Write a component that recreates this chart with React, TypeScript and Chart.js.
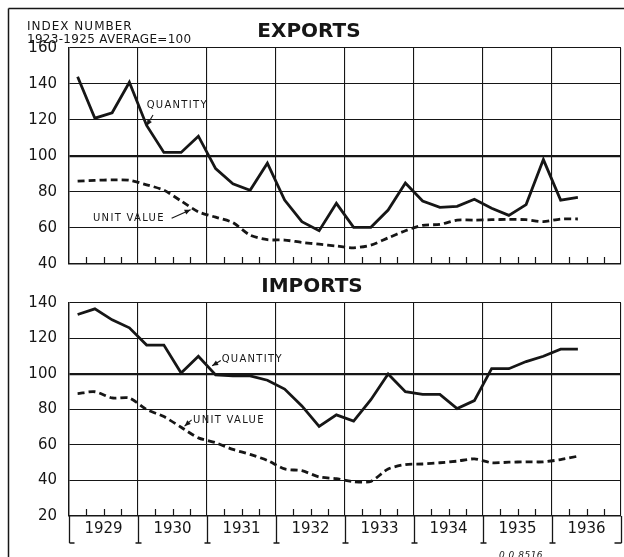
import React, { useEffect, useRef } from 'react';
import { Chart, registerables } from 'chart.js';

Chart.register(...registerables);

// ---- data (quarterly, 1929 Q1 – 1936 Q2) ----
const YEARS = ['1929', '1930', '1931', '1932', '1933', '1934', '1935', '1936'];
const QUARTERS_PER_YEAR = 4;

const exportsQuantity = [
  144, 121, 124, 141, 117, 102, 102, 111, 93, 84.5, 81, 96, 75.5, 63.5, 58.5,
  73.7, 60.4, 60.4, 70, 85, 75, 71.5, 72, 76, 71, 67, 73, 98, 75.5, 77,
];
const exportsUnitValue = [
  86, 86.5, 86.7, 86.5, 84, 81, 75, 69, 66, 63, 56, 53.5, 53.3, 52, 51, 50, 49,
  50.5, 54.5, 58.5, 61.5, 62, 64.4, 64.4, 64.6, 64.8, 64.6, 63.5, 65, 65,
];
const importsQuantity = [
  133.5, 136.7, 130.5, 126, 116.3, 116.3, 100.6, 110, 99.5, 99, 99, 96.5, 91.5,
  82, 70.5, 77, 73.5, 85.5, 100, 90, 88.5, 88.5, 80.5, 85, 103, 103, 107, 110,
  114, 114,
];
const importsUnitValue = [
  89, 90, 86.5, 86.5, 80, 76, 70, 64, 61.3, 57.5, 54.7, 51.3, 46.5, 45.5, 42, 41,
  39.3, 39.5, 46.5, 49, 49.3, 50, 50.9, 52.2, 50, 50.3, 50.5, 50.5, 51.8, 53.7,
];
const exportsTicks = [40, 60, 80, 100, 120, 140, 160];
const importsTicks = [20, 40, 60, 80, 100, 120, 140];

const INK = '#161616';
const FONT = '"DejaVu Sans"';
Chart.defaults.font.family = FONT;
Chart.defaults.color = INK;

type Note = { text: string; tx: number; ty: number; from: [number, number]; to: [number, number] };

const exportsNotes: Note[] = [
  { text: 'QUANTITY', tx: 4.5, ty: 128.3, from: [4.87, 122.8], to: [4.5, 116.8] },
  { text: 'UNIT VALUE', tx: 1.39, ty: 65.6, from: [5.95, 65.4], to: [7.05, 70.2] },
];
const importsNotes: Note[] = [
  { text: 'QUANTITY', tx: 8.85, ty: 108.3, from: [8.8, 107.6], to: [8.3, 104.6] },
  { text: 'UNIT VALUE', tx: 7.19, ty: 73.6, from: [7.11, 74.2], to: [6.7, 70.6] },
];

function arrow(ctx: CanvasRenderingContext2D, x1: number, y1: number, x2: number, y2: number) {
  ctx.beginPath();
  ctx.moveTo(x1, y1);
  ctx.lineTo(x2, y2);
  ctx.stroke();
  const a = Math.atan2(y2 - y1, x2 - x1);
  const L = 6;
  const W = 2.6;
  ctx.beginPath();
  ctx.moveTo(x2, y2);
  ctx.lineTo(x2 - L * Math.cos(a) + W * Math.sin(a), y2 - L * Math.sin(a) - W * Math.cos(a));
  ctx.lineTo(x2 - L * Math.cos(a) - W * Math.sin(a), y2 - L * Math.sin(a) + W * Math.cos(a));
  ctx.closePath();
  ctx.fill();
}

function makeDecor(kind: 'exports' | 'imports', notes: Note[], pageTop: number) {
  return {
    id: 'decor_' + kind,
    afterDraw(chart: any) {
      const ctx: CanvasRenderingContext2D = chart.ctx;
      const xs = chart.scales.x;
      const ys = chart.scales.y;
      const area = chart.chartArea;
      ctx.save();
      ctx.strokeStyle = INK;
      ctx.fillStyle = INK;

      // outer frame (left and top)
      ctx.lineWidth = 1.5;
      ctx.beginPath();
      ctx.moveTo(8.5, kind === 'exports' ? 8.5 : 0);
      ctx.lineTo(8.5, chart.height);
      if (kind === 'exports') {
        ctx.moveTo(8.5, 8.5);
        ctx.lineTo(chart.width, 8.5);
      }
      ctx.stroke();

      // minor quarter ticks along bottom of plot
      ctx.lineWidth = 1.2;
      ctx.beginPath();
      const nQ = YEARS.length * QUARTERS_PER_YEAR;
      for (let q = 1; q < nQ; q++) {
        if (q % QUARTERS_PER_YEAR === 0) continue;
        const x = Math.round(xs.getPixelForValue(q)) + 0.5;
        ctx.moveTo(x, area.bottom);
        ctx.lineTo(x, area.bottom - 7);
      }
      ctx.stroke();

      // annotations
      ctx.font = '10px ' + FONT;
      (ctx as any).letterSpacing = '1.3px';
      ctx.textAlign = 'left';
      ctx.textBaseline = 'middle';
      notes.forEach((n) => {
        ctx.fillText(n.text, xs.getPixelForValue(n.tx), ys.getPixelForValue(n.ty));
        ctx.lineWidth = 1.1;
        arrow(
          ctx,
          xs.getPixelForValue(n.from[0]),
          ys.getPixelForValue(n.from[1]),
          xs.getPixelForValue(n.to[0]),
          ys.getPixelForValue(n.to[1])
        );
      });

      // panel title
      (ctx as any).letterSpacing = '0px';
      ctx.font = 'bold 20px ' + FONT;
      ctx.textAlign = 'center';
      ctx.textBaseline = 'alphabetic';
      if (kind === 'exports') {
        ctx.fillText('EXPORTS', 309, 36.5);
        ctx.textAlign = 'left';
        ctx.font = '12px ' + FONT;
        (ctx as any).letterSpacing = '1px';
        ctx.fillText('INDEX NUMBER', 27, 30);
        (ctx as any).letterSpacing = '0.3px';
        ctx.fillText('1923-1925 AVERAGE=100', 27, 43);
      } else {
        ctx.fillText('IMPORTS', 312, 292 - pageTop);
        // year brackets below axis
        ctx.lineWidth = 1.3;
        ctx.beginPath();
        for (let y = 0; y <= YEARS.length; y++) {
          const x = Math.round(xs.getPixelForValue(y * QUARTERS_PER_YEAR)) + 0.5;
          const yb = area.bottom + 27;
          ctx.moveTo(x, area.bottom);
          ctx.lineTo(x, yb);
          if (y === 0) {
            ctx.moveTo(x, yb);
            ctx.lineTo(x + 5, yb);
          } else if (y === YEARS.length) {
            ctx.moveTo(x - 7, yb);
            ctx.lineTo(x, yb);
          } else {
            ctx.moveTo(x - 3, yb);
            ctx.lineTo(x + 3, yb);
          }
        }
        ctx.stroke();
        ctx.font = 'italic 9px ' + FONT;
        ctx.textAlign = 'left';
        (ctx as any).letterSpacing = '0.5px';
        ctx.fillText('0.0.8516', 499, 558 - pageTop);
      }
      ctx.restore();
    },
  };
}

function makeConfig(p: {
  kind: 'exports' | 'imports';
  quantity: number[];
  unit: number[];
  yTicks: number[];
  notes: Note[];
  pageTop: number;
  padTop: number;
  padBottom: number;
  xHeight: number;
}): any {
  const nQ = YEARS.length * QUARTERS_PER_YEAR;
  const toPts = (arr: number[]) => arr.map((v, i) => ({ x: i + 0.5, y: v }));
  const showYears = p.kind === 'imports';
  return {
    type: 'line',
    data: {
      datasets: [
        {
          label: 'Quantity',
          data: toPts(p.quantity),
          borderColor: INK,
          borderWidth: 2.8,
          pointRadius: 0,
          tension: 0,
          fill: false,
          borderJoinStyle: 'miter',
        },
        {
          label: 'Unit value',
          data: toPts(p.unit),
          borderColor: INK,
          borderWidth: 2.8,
          borderDash: [7, 4],
          pointRadius: 0,
          tension: 0.25,
          fill: false,
        },
      ],
    },
    options: {
      animation: false,
      responsive: true,
      maintainAspectRatio: false,
      events: [],
      layout: { padding: { top: p.padTop, left: 0, right: 3, bottom: p.padBottom } },
      plugins: { legend: { display: false }, tooltip: { enabled: false }, title: { display: false } },
      scales: {
        x: {
          type: 'linear',
          min: 0,
          max: nQ,
          afterBuildTicks: (scale: any) => {
            const t: any[] = [];
            for (let y = 0; y <= YEARS.length; y++) {
              t.push({ value: y * QUARTERS_PER_YEAR });
              if (y < YEARS.length && showYears) t.push({ value: y * QUARTERS_PER_YEAR + QUARTERS_PER_YEAR / 2 });
            }
            scale.ticks = t;
          },
          afterFit: (scale: any) => {
            scale.height = p.xHeight;
            scale.paddingLeft = 0;
            scale.paddingRight = 0;
          },
          ticks: {
            display: showYears,
            autoSkip: false,
            maxRotation: 0,
            padding: 4,
            color: INK,
            font: { size: 15 },
            callback: (v: number) =>
              v % QUARTERS_PER_YEAR === QUARTERS_PER_YEAR / 2 ? YEARS[(v - 2) / QUARTERS_PER_YEAR] : '',
          },
          grid: {
            drawTicks: false,
            color: (c: any) => (c.tick && c.tick.value % QUARTERS_PER_YEAR === 0 ? INK : 'rgba(0,0,0,0)'),
            lineWidth: 1.1,
          },
          border: { display: true, color: INK, width: 1.4 },
        },
        y: {
          type: 'linear',
          min: p.yTicks[0],
          max: p.yTicks[p.yTicks.length - 1],
          afterBuildTicks: (scale: any) => {
            scale.ticks = p.yTicks.map((v) => ({ value: v }));
          },
          afterFit: (scale: any) => {
            scale.width = 69;
            scale.paddingTop = 0;
            scale.paddingBottom = 0;
          },
          ticks: { padding: 12, color: INK, font: { size: 15 } },
          grid: {
            drawTicks: false,
            color: INK,
            lineWidth: (c: any) => (c.tick && c.tick.value === 100 ? 2.2 : 1.1),
          },
          border: { display: true, color: INK, width: 1.4 },
        },
      },
    },
    plugins: [makeDecor(p.kind, p.notes, p.pageTop)],
  };
}

export default function App() {
  const ref1 = useRef<HTMLCanvasElement>(null);
  const ref2 = useRef<HTMLCanvasElement>(null);

  useEffect(() => {
    const c1 = new Chart(
      ref1.current as HTMLCanvasElement,
      makeConfig({
        kind: 'exports',
        quantity: exportsQuantity,
        unit: exportsUnitValue,
        yTicks: exportsTicks,
        notes: exportsNotes,
        pageTop: 0,
        padTop: 48,
        padBottom: 8,
        xHeight: 0,
      })
    );
    const c2 = new Chart(
      ref2.current as HTMLCanvasElement,
      makeConfig({
        kind: 'imports',
        quantity: importsQuantity,
        unit: importsUnitValue,
        yTicks: importsTicks,
        notes: importsNotes,
        pageTop: 272,
        padTop: 31,
        padBottom: 0,
        xHeight: 41,
      })
    );
    return () => {
      c1.destroy();
      c2.destroy();
    };
  }, []);

  return (
    <div style={{ position: 'absolute', left: 0, top: 0, width: 624, height: 557, background: '#fff', overflow: 'hidden' }}>
      <div style={{ position: 'absolute', left: 0, top: 0, width: 624, height: 272 }}>
        <canvas ref={ref1} />
      </div>
      <div style={{ position: 'absolute', left: 0, top: 272, width: 624, height: 285 }}>
        <canvas ref={ref2} />
      </div>
    </div>
  );
}
